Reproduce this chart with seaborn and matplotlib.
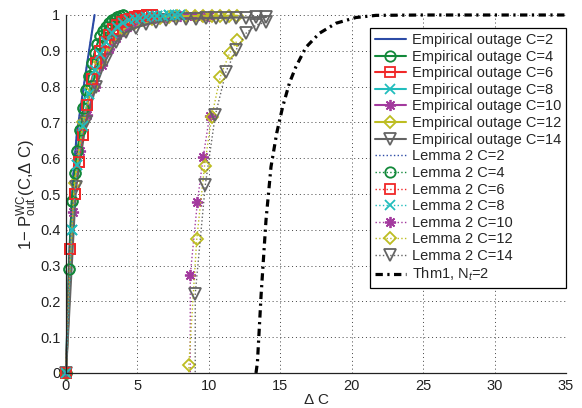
import matplotlib
matplotlib.use("Agg")
import matplotlib.pyplot as plt
import seaborn as sns
import pandas as pd

# ---------------- data ----------------
dC2 = [0, 0.25, 0.5, 0.75, 1.0, 1.5, 2.0]
emp2 = [0, 0.35, 0.55, 0.665, 0.735, 0.87, 1.0]

dC4 = [0, 0.2, 0.4, 0.6, 0.8, 1.0, 1.2, 1.4, 1.6, 1.8, 2.0, 2.2, 2.4, 2.6, 2.8, 3.0, 3.2, 3.4, 3.6, 3.8, 4.0]
emp4 = [0, 0.29, 0.48, 0.56, 0.62, 0.68, 0.74, 0.79, 0.83, 0.865, 0.895, 0.92, 0.94, 0.955, 0.967, 0.977, 0.985, 0.99, 0.995, 0.998, 1.0]

dC6 = [0, 0.3, 0.6, 0.9, 1.2, 1.5, 1.8, 2.1, 2.4, 2.7, 3.0, 3.3, 3.6, 3.9, 4.2, 4.5, 4.8, 5.1, 5.4, 5.7, 6.0]
emp6 = [0, 0.345, 0.50, 0.59, 0.665, 0.75, 0.82, 0.865, 0.90, 0.925, 0.945, 0.96, 0.972, 0.98, 0.986, 0.99, 0.994, 0.996, 0.998, 0.999, 1.0]

dC8 = [0, 0.4, 0.8, 1.2, 1.6, 2.0, 2.4, 2.8, 3.2, 3.6, 4.0, 4.4, 4.8, 5.2, 5.6, 6.0, 6.4, 6.8, 7.2, 7.6, 8.0]
emp8 = [0, 0.40, 0.58, 0.69, 0.78, 0.845, 0.89, 0.925, 0.95, 0.967, 0.978, 0.985, 0.99, 0.993, 0.995, 0.997, 0.998, 0.998, 0.999, 0.999, 1.0]

dC10 = [0, 0.5, 1.0, 1.5, 2.0, 2.5, 3.0, 3.5, 4.0, 4.5, 5.0, 5.5, 6.0, 6.5, 7.0, 7.5, 8.0, 8.5, 9.0, 9.5, 10.0]
emp10 = [0, 0.45, 0.62, 0.72, 0.80, 0.86, 0.905, 0.935, 0.955, 0.97, 0.98, 0.987, 0.99, 0.993, 0.995, 0.996, 0.997, 0.997, 0.998, 0.998, 0.998]

dC12 = [0, 0.6, 1.2, 1.8, 2.4, 3.0, 3.6, 4.2, 4.8, 5.4, 6.0, 6.6, 7.2, 7.8, 8.4, 9.0, 9.6, 10.2, 10.8, 11.4, 12.0]
emp12 = [0, 0.53, 0.70, 0.80, 0.87, 0.915, 0.945, 0.965, 0.978, 0.985, 0.99, 0.993, 0.995, 0.996, 0.997, 0.997, 0.998, 0.998, 0.998, 0.998, 0.998]

dC14 = [0, 0.7, 1.4, 2.1, 2.8, 3.5, 4.2, 4.9, 5.6, 6.3, 7.0, 7.7, 8.4, 9.1, 9.8, 10.5, 11.2, 11.9, 12.6, 13.3, 14.0]
emp14 = [0, 0.52, 0.70, 0.80, 0.875, 0.925, 0.952, 0.965, 0.974, 0.98, 0.985, 0.988, 0.99, 0.99, 0.991, 0.992, 0.992, 0.993, 0.993, 0.994, 0.994]

# Lemma 2 (coincides with empirical for small C; below zero for large C until near C)
lem2 = [0, 0.35, 0.55, 0.665, 0.735, 0.87, 1.0]
lem4 = [0, 0.29, 0.48, 0.56, 0.62, 0.68, 0.74, 0.79, 0.83, 0.865, 0.895, 0.92, 0.94, 0.955, 0.967, 0.977, 0.985, 0.99, 0.995, 0.998, 1.0]
lem6 = [0, 0.345, 0.50, 0.59, 0.665, 0.75, 0.82, 0.865, 0.90, 0.925, 0.945, 0.96, 0.972, 0.98, 0.986, 0.99, 0.994, 0.996, 0.998, 0.999, 1.0]
lem8 = [0, 0.40, 0.58, 0.69, 0.78, 0.845, 0.89, 0.925, 0.95, 0.967, 0.978, 0.985, 0.99, 0.993, 0.995, 0.997, 0.998, 0.998, 0.999, 0.999, 1.0]
lem10_x = [8.2, 8.7, 9.2, 9.6, 10.05]
lem10 = [-30, 0.274, 0.479, 0.602, 0.718]
lem12_x = [8.1, 8.6, 9.15, 9.7, 10.2, 10.8, 11.45, 12.0]
lem12 = [-30, 0.022, 0.373, 0.579, 0.716, 0.828, 0.893, 0.93]
lem14_x = [8.5, 9.05, 9.75, 10.45, 11.2, 11.9, 12.6, 13.3, 14.0]
lem14 = [-30, 0.222, 0.525, 0.72, 0.842, 0.902, 0.949, 0.972, 0.98]

thm_x = [13.3, 13.4, 13.66, 14.0, 14.35, 14.75, 15.17, 15.64, 16.1, 16.8, 17.74, 18.9, 20.3, 21.7, 25, 30, 35]
thm_y = [0, 0.03, 0.22, 0.427, 0.576, 0.67, 0.744, 0.81, 0.856, 0.91, 0.949, 0.977, 0.993, 0.999, 1.0, 1.0, 1.0]

x_ticks = [0, 5, 10, 15, 20, 25, 30, 35]
x_tick_labels = ["0", "5", "10", "15", "20", "25", "30", "35"]
y_ticks = [0, 0.1, 0.2, 0.3, 0.4, 0.5, 0.6, 0.7, 0.8, 0.9, 1.0]
y_tick_labels = ["0", "0.1", "0.2", "0.3", "0.4", "0.5", "0.6", "0.7", "0.8", "0.9", "1"]

# ---------------- style ----------------
sns.set_theme(style="white")
plt.rcParams["font.family"] = ["Liberation Sans", "DejaVu Sans"]
plt.rcParams["mathtext.fontset"] = "custom"
plt.rcParams["mathtext.rm"] = "Liberation Sans"
plt.rcParams["mathtext.it"] = "Liberation Sans:italic"
plt.rcParams["mathtext.bf"] = "Liberation Sans:bold"

colors = {
    2: "#2C4BA6",
    4: "#12893A",
    6: "#F02828",
    8: "#22BDBD",
    10: "#A33A9E",
    12: "#BDBD22",
    14: "#646464",
}
markers = {2: None, 4: "o", 6: "s", 8: "x", 10: (8, 2, 0), 12: "D", 14: "v"}
msizes = {2: 0, 4: 7.5, 6: 7, 8: 6.5, 10: 8, 12: 6.5, 14: 8.5}

fig = plt.figure(figsize=(5.82, 4.08), dpi=100)
ax = fig.add_axes([66 / 582, 1 - 373 / 408, 500 / 582, 358 / 408])

emp_sets = [(2, dC2, emp2), (4, dC4, emp4), (6, dC6, emp6), (8, dC8, emp8),
            (10, dC10, emp10), (12, dC12, emp12), (14, dC14, emp14)]
lem_sets = [(2, dC2, lem2), (4, dC4, lem4), (6, dC6, lem6), (8, dC8, lem8),
            (10, lem10_x, lem10), (12, lem12_x, lem12), (14, lem14_x, lem14)]


def draw(C, xs, ys, ls, lw, label, clip):
    df = pd.DataFrame({"x": xs, "y": ys})
    kw = dict(color=colors[C], linestyle=ls, linewidth=lw, label=label,
              clip_on=clip)
    if markers[C] is not None:
        kw.update(marker=markers[C], markersize=msizes[C],
                  markerfacecolor="none", markeredgecolor=colors[C],
                  markeredgewidth=1.3)
    sns.lineplot(data=df, x="x", y="y", ax=ax, sort=False, estimator=None,
                 errorbar=None, **kw)


for C, xs, ys in emp_sets:
    draw(C, xs, ys, "-", 1.5, f"Empirical outage C={C}", False)
for C, xs, ys in lem_sets:
    clip = C >= 10
    draw(C, xs, ys, ":", 1.0, f"Lemma 2 C={C}", clip)

sns.lineplot(data=pd.DataFrame({"x": thm_x, "y": thm_y}), x="x", y="y", ax=ax,
             sort=False, estimator=None, errorbar=None, color="black",
             linewidth=2.3, linestyle=(0, (2.3, 1.4, 0.7, 1.4)),
             label="Thm1, N$_t$=2", clip_on=False)

ax.set_xlim(0, 35)
ax.set_ylim(0, 1)
ax.set_xticks(x_ticks)
ax.set_xticklabels(x_tick_labels)
ax.set_yticks(y_ticks)
ax.set_yticklabels(y_tick_labels)
ax.tick_params(direction="in", length=4, width=0.8, labelsize=10.5, colors="#222222",
               pad=4)
ax.grid(True, color="#444444", linestyle=(0, (1, 3)), linewidth=0.7)
for s in ["top", "right"]:
    ax.spines[s].set_visible(False)
for s in ["left", "bottom"]:
    ax.spines[s].set_color("#222222")
    ax.spines[s].set_linewidth(0.9)

ax.set_xlabel(r"$\Delta$ C", fontsize=11, labelpad=0)
ax.set_ylabel(r"1$-$ P$_{\mathrm{out}}^{\mathrm{WC}}$(C,$\Delta$ C)", fontsize=12, labelpad=1)

handles, labels = ax.get_legend_handles_labels()
leg = ax.legend(handles, labels, loc="upper right", bbox_to_anchor=(1.0, 0.964),
                borderaxespad=0, fontsize=10.5, frameon=True, fancybox=False,
                edgecolor="black", framealpha=1, labelspacing=0.18,
                handlelength=2.1, handletextpad=0.4, borderpad=0.35)
leg.get_frame().set_linewidth(0.9)

fig.savefig("out.png", dpi=100)
